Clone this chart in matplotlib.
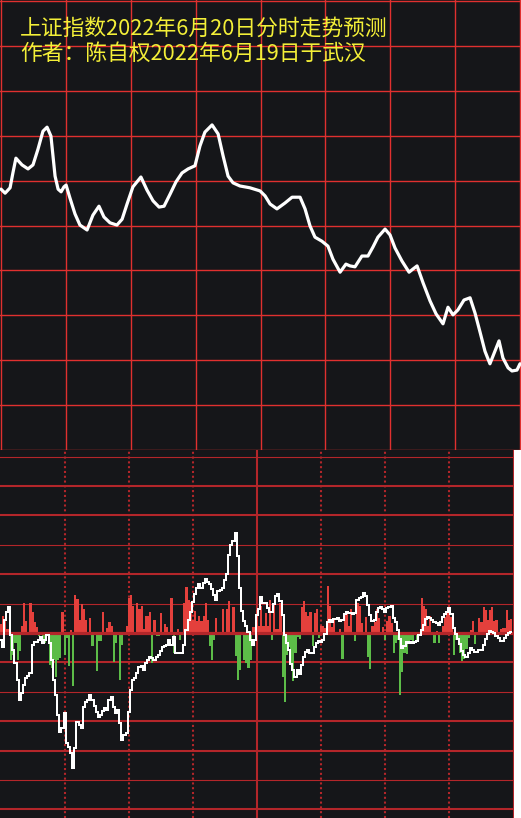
import numpy as np
import matplotlib
matplotlib.use("Agg")
import matplotlib.pyplot as plt
from matplotlib.patches import Rectangle

plt.rcParams['font.family'] = ['Noto Sans CJK SC', 'DejaVu Sans']

# ---------------- data ----------------
title_lines = ["上证指数2022年6月20日分时走势预测", "作者：陈自权2022年6月19日于武汉"]

# forecast intraday index path (minute of session, index points)
price_minutes = [0.0, 1.9, 4.2, 5.5, 6.9, 9.7, 12.5, 14.8, 17.1, 19.4, 21.3, 23.1, 25.0, 26.4, 27.8,
                 29.1, 30.1, 31.9, 34.2, 36.5, 39.8, 42.5, 45.3, 47.6, 50.4, 53.6, 56.0, 58.3, 61.0,
                 64.7, 67.5, 70.3, 73.1, 75.4, 78.2, 80.9, 83.7, 86.5, 89.7, 92.0, 94.3, 97.6, 100.4,
                 102.7, 105.0, 107.3, 110.5, 115.1, 119.8, 122.1, 124.4, 127.6, 131.3, 134.6, 138.3,
                 140.6, 142.9, 145.2, 148.4, 151.2, 153.5, 156.8, 159.5, 161.4, 163.7, 166.9, 169.7,
                 172.0, 174.3, 177.6, 179.9, 182.2, 185.4, 188.7, 190.5, 192.4, 195.2, 198.4, 201.2,
                 204.4, 206.7, 209.0, 211.3, 214.1, 216.9, 219.2, 221.5, 223.8, 226.1, 228.4, 230.3,
                 232.1, 234.5, 236.3, 238.6, 240.0]
price_values = [3318.1, 3317.2, 3318.4, 3321.7, 3325.0, 3323.5, 3322.6, 3323.5, 3327.0, 3331.0, 3331.9,
                3329.9, 3321.0, 3318.1, 3317.5, 3318.6, 3319.0, 3316.1, 3312.6, 3310.1, 3309.0, 3312.3,
                3314.3, 3311.9, 3310.6, 3310.1, 3311.4, 3314.8, 3318.6, 3320.8, 3317.9, 3315.5, 3314.1,
                3314.3, 3317.0, 3319.7, 3321.7, 3322.6, 3323.3, 3327.7, 3330.8, 3332.4, 3330.4, 3325.5,
                3321.0, 3319.5, 3318.8, 3318.4, 3317.7, 3316.6, 3314.8, 3313.7, 3315.0, 3316.3, 3316.3,
                3313.7, 3309.9, 3307.4, 3306.5, 3305.4, 3302.5, 3299.6, 3301.4, 3301.0, 3300.8, 3303.2,
                3303.2, 3305.2, 3307.4, 3309.2, 3307.9, 3305.0, 3302.1, 3299.6, 3300.3, 3301.0, 3297.2,
                3293.2, 3290.3, 3288.1, 3291.8, 3290.1, 3291.2, 3293.4, 3293.9, 3290.5, 3286.3, 3282.0,
                3279.2, 3282.0, 3284.3, 3280.5, 3278.3, 3277.6, 3277.8, 3279.2]

# lower panel: white indicator line (one value per minute)
flow_values = [-7, -14, 13, 21, 26, -2, -17, -30, -47, -67, -60, -52, -45, -43, -40, -12, -9, -9, -7, -4,
               -10, -7, -2, -10, -27, -47, -62, -82, -99, -95, -80, -110, -114, -120, -135, -115, -89, -92, -95, -74,
               -69, -67, -62, -67, -73, -79, -84, -82, -78, -75, -77, -67, -64, -74, -80, -77, -90, -107, -102, -100,
               -79, -57, -47, -45, -40, -34, -33, -37, -30, -27, -24, -25, -27, -24, -22, -18, -14, -13, -12, -7,
               -12, -4, -20, -20, -20, -20, -12, 3, 13, 21, 31, 39, 45, 49, 45, 50, 54, 51, 49, 44,
               38, 33, 42, 43, 45, 53, 59, 78, 88, 92, 100, 77, 45, 22, 12, 7, 1, -7, -12, -7,
               18, 24, 36, 30, 30, 25, 21, 21, 29, 37, 39, 32, 18, -2, -10, -17, -31, -37, -44, -37,
               -41, -32, -24, -19, -17, -20, -20, -14, -10, -8, -9, -7, -1, 11, 13, 11, 14, 14, 15, 12,
               13, 19, 21, 20, 20, 19, 20, 33, 35, 36, 40, 37, 28, 18, 12, 13, 21, 25, 26, 24,
               21, 25, 26, 27, 15, 11, 3, -6, -15, -13, -9, -10, -9, -10, -9, -8, -2, 3, 8, 14,
               16, 15, 13, 11, 10, 8, 11, 16, 19, 21, 25, 19, 5, -1, -6, -11, -18, -22, -24, -20,
               -15, -17, -19, -19, -17, -17, -12, -6, -1, 2, 1, 0, -3, -5, -8, -8, -5, -2, 0, 1]

# lower panel: red / green bars (one value per minute)
bar_values = [9, 17, 12, 4, 4, -27, -22, -10, -27, -18, 7, 30, 12, -2, 30, 21, 11, 6, -3, 0,
              -10, -10, 0, -32, -35, -27, -44, -27, -25, 21, -22, -5, -33, 3, -53, 38, 34, 13, 29, 24,
              13, 0, 15, -13, 0, -38, -8, -8, 21, 0, 5, 11, 7, -29, -10, 0, -47, -12, 0, 7,
              35, 38, 27, 0, 30, 24, 27, 4, 17, 17, 21, -30, 13, -3, -3, 20, 0, 9, 6, 0,
              35, -20, 0, 4, -7, -2, 30, 46, 33, 31, 13, 22, 12, 17, 12, 17, 30, 13, -13, -27,
              -7, 15, 0, 0, 24, 0, 24, 32, 0, 26, -23, -47, -37, 0, -27, -30, -35, -27, 6, 6,
              23, 7, 27, 7, 20, 7, 33, -7, 30, 4, 4, 30, -44, -69, -22, -14, -31, -48, -20, -4,
              -6, 26, 32, 21, 17, 21, -13, 20, 24, -5, 7, 7, 5, 47, 27, 6, 14, 0, 0, 4,
              -26, 20, 20, 7, 24, 0, -8, 30, 27, 10, 0, 16, -24, -36, 7, 11, 24, 15, 0, 6,
              -7, 12, 17, 10, -20, -10, -7, -62, -39, -20, -21, -10, -7, -8, 0, -8, 0, 35, 27, 24,
              7, 17, 0, -10, 2, -10, 0, 7, 16, 20, 24, 16, -22, -7, -7, -20, -28, -26, -16, -5,
              3, 12, -11, 0, 15, 11, 26, 23, 13, 23, 26, 12, 13, 0, 4, 5, 5, 23, 13, 14]

# ---------------- style ----------------
BG = '#151619'
TOP_RED = '#e0302f'
LOW_RED = '#b3262a'
BAR_RED = '#e4403c'
BAR_GREEN = '#5cbc48'
YELLOW = '#f3ef38'

W, H = 521, 818
fig = plt.figure(figsize=(W / 100, H / 100), dpi=100)
fig.patch.set_facecolor(BG)

# ---------------- top panel ----------------
TOP_H = 450
ax1 = fig.add_axes([0, 1 - TOP_H / H, 1, TOP_H / H])
ax1.set_facecolor(BG)
ppx = 519 / 240.0
ax1.set_xlim(-1 / ppx, (W - 1) / ppx)
ppy = 4.49
ytop = 3360 + 1 / ppy
ax1.set_ylim(ytop - TOP_H / ppy, ytop)
for lv in np.arange(3260, 3361, 10):
    ax1.axhline(lv, color=TOP_RED, lw=1.0, clip_on=False, zorder=1)
for mv in np.arange(0, 241, 30):
    ax1.axvline(mv, color=TOP_RED, lw=1.0, clip_on=False, zorder=1)
ax1.plot(price_minutes, price_values, color='white', lw=2.3,
         solid_joinstyle='round', solid_capstyle='round', zorder=3)
ax1.set_xticks([]); ax1.set_yticks([])
for s in ax1.spines.values():
    s.set_visible(False)

for i, line in enumerate(title_lines):
    fig.text(20 / W, 1 - (29 + 24.5 * i) / H, line, color=YELLOW, fontsize=15.7,
             va='center', ha='left')

# ---------------- lower panel ----------------
LOW_W = 514
ax2 = fig.add_axes([0, 0, LOW_W / W, (H - TOP_H) / H])
ax2.set_facecolor(BG)
ax2.set_xlim(-0.25, -0.25 + LOW_W / 2.1375)
ax2.set_ylim(633 - H, 633 - TOP_H)

step = 29.4
widths = {6: 0.8, 5: 1.5, 4: 1.5, 3: 0.8, 2: 1.5, 1: 0.8, 0: 2.3,
          -1: 1.5, -2: 0.8, -3: 1.5, -4: 1.5, -5: 0.8, -6: 1.5}
for k, lw in widths.items():
    ax2.axhline(k * step, color=LOW_RED, lw=lw, zorder=4 if k == 0 else 1)

for mv in [30, 60, 90, 150, 180, 210]:
    ax2.axvline(mv, color=LOW_RED, lw=1.5, linestyle=(0, (1.0, 1.3)), zorder=1)
for mv in [120, 240]:
    ax2.axvline(mv, color=LOW_RED, lw=1.5, zorder=1)

minutes = np.arange(len(bar_values))
colors = [BAR_RED if v > 0 else BAR_GREEN for v in bar_values]
ax2.bar(minutes, bar_values, width=1.0, color=colors, linewidth=0, antialiased=False, zorder=2)
ax2.step(np.arange(len(flow_values)), flow_values, where='mid', color='white', lw=1.1,
         antialiased=False, zorder=5)

ax2.set_xticks([]); ax2.set_yticks([])
for s in ax2.spines.values():
    s.set_visible(False)

fig.patches.append(Rectangle((LOW_W / W, 0), (W - LOW_W) / W, (H - TOP_H) / H,
                             transform=fig.transFigure, facecolor='white', edgecolor='none', zorder=10))

fig.savefig('out.png', dpi=100, facecolor=fig.get_facecolor())
